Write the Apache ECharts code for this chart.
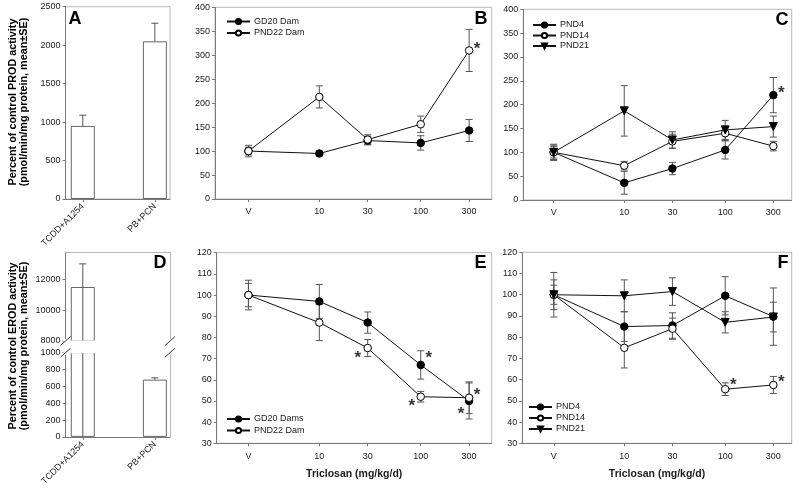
<!DOCTYPE html>
<html><head><meta charset="utf-8">
<script src="https://cdn.jsdelivr.net/npm/echarts@6/dist/echarts.min.js"></script>
<style>html,body{margin:0;padding:0;background:#fff}#c{width:800px;height:488px}</style>
</head><body><div id="c"></div>
<script>
// ---------------- DATA ----------------
const barCats = ['TCDD+A1254', 'PB+PCN'];
const prodA = [950, 2050];
const prodA_se = [140, 235];
const erodD = [11500, 680];
const erodD_se = [1500, 22];

const doses = [2, 10, 30, 100, 300];          // "V" (vehicle) plotted at 2
const doseLabels = ['V', '10', '30', '100', '300'];

// B: PROD, dams
const B_GD20 = [100, 95, 122, 117, 143];
const B_GD20_se = [8, 5, 9, 15, 23];
const B_PND22 = [100, 213, 124, 156, 310];
const B_PND22_se = [12, 23, 10, 17, 44];
// C: PROD, pups
const C_PND4 = [100, 36, 66, 105, 220];
const C_PND4_se = [17, 24, 13, 19, 37];
const C_PND14 = [100, 72, 123, 140, 113];
const C_PND14_se = [12, 9, 15, 15, 10];
const C_PND21 = [100, 187, 126, 147, 154];
const C_PND21_se = [15, 53, 17, 20, 22];
// E: EROD, dams
const E_GD20 = [100, 97, 87, 67, 50];
const E_GD20_se = [7, 8, 5, 6.7, 8.5];
const E_PND22 = [100, 87, 75, 52, 51.5];
const E_PND22_se = [5.5, 8.5, 4, 2.5, 7.5];
// F: EROD, pups
const F_PND4 = [100, 85, 85.5, 99.5, 89.7];
const F_PND4_se = [10.5, 7, 6, 9, 13.5];
const F_PND14 = [100, 75, 84, 55.5, 57.5];
const F_PND14_se = [7, 9.5, 5, 3, 4];
const F_PND21 = [100, 99.5, 101.5, 87, 89.5];
const F_PND21_se = [4.5, 7.5, 6.5, 5, 7];

// significance stars: [dose, value of the marked point]
const starsB = [[300, 310]];
const starsC = [[300, 220]];
const starsE = [[30, 75], [100, 67], [100, 52], [300, 51.5], [300, 50]];
const starsF = [[100, 55.5], [300, 57.5]];

// ---------------- STYLE ----------------
const FONT = '"Liberation Sans", Arial, Helvetica, sans-serif';
const AX = '#7a7a7a', FRAME = '#b8b8b8', TXT = '#1a1a1a', ERR = '#555';
const starOffB = [[8, -1]];
const starOffC = [[8, -2]];
const starOffE = [[-10, 10], [8, -7], [-9, 10], [8, -2], [-8, 13]];
const starOffF = [[8, -4], [8, -3]];

const chart = echarts.init(document.getElementById('c'), null, {renderer: 'canvas'});

const grids = [
  {left: 65.5, top: 6.7, width: 104.5, height: 192.3, show: true, borderColor: FRAME, borderWidth: 1},   // 0 A
  {left: 215, top: 7.3, width: 276.7, height: 191.7, show: true, borderColor: FRAME, borderWidth: 1},    // 1 B
  {left: 523.3, top: 9.3, width: 268.4, height: 190.7, show: true, borderColor: FRAME, borderWidth: 1},  // 2 C
  {left: 65.5, top: 252.3, width: 104.5, height: 88.7, show: false},                                     // 3 D upper
  {left: 65.5, top: 352.7, width: 104.5, height: 89.3, show: false},                                     // 4 D lower
  {left: 216.7, top: 252.7, width: 275, height: 190.6, show: true, borderColor: FRAME, borderWidth: 1},  // 5 E
  {left: 522.3, top: 252.3, width: 269.4, height: 191, show: true, borderColor: FRAME, borderWidth: 1}   // 6 F
];

const tickStyle = {show: true, length: 3, inside: false, lineStyle: {color: AX, width: 1}};
const lineAx = {show: true, lineStyle: {color: AX, width: 1}};
const lblStyle = {fontSize: 9, color: TXT, fontFamily: FONT};
const plainNum = v => String(v);

function logX(gi, min, max, withName) {
  return {
    type: 'log', logBase: 10, gridIndex: gi, min: min, max: max,
    axisLine: lineAx, splitLine: {show: false}, minorTick: {show: false},
    axisTick: Object.assign({}, tickStyle, {customValues: doses}),
    axisLabel: Object.assign({}, lblStyle, {margin: 8.5, customValues: doses,
      formatter: v => { const i = doses.findIndex(d => Math.abs(d - v) < 1e-6); return i >= 0 ? doseLabels[i] : ''; }}),
    name: withName ? 'Triclosan (mg/kg/d)' : '', nameLocation: 'middle', nameGap: 25,
    nameTextStyle: {fontSize: 10.5, fontWeight: 'bold', color: TXT, fontFamily: FONT}
  };
}
function catX(gi, showLabels, pos, lineColor) {
  return {
    type: 'value', gridIndex: gi, min: 0.76, max: 2.21, position: pos || 'bottom',
    axisLine: {show: true, lineStyle: {color: lineColor || AX, width: 1}}, splitLine: {show: false},
    axisTick: Object.assign({}, tickStyle, {show: showLabels, customValues: [1, 2]}),
    axisLabel: Object.assign({}, lblStyle, {show: showLabels, rotate: 45, margin: 6, customValues: [1, 2],
      formatter: v => barCats[Math.round(v) - 1] || ''})
  };
}
function valY(gi, min, max, interval, extra) {
  return Object.assign({
    type: 'value', gridIndex: gi, min: min, max: max, interval: interval,
    axisLine: lineAx, splitLine: {show: false},
    axisTick: tickStyle, axisLabel: Object.assign({}, lblStyle, {margin: 5, formatter: plainNum})
  }, extra || {});
}

const xAxes = [
  catX(0, true),                  // 0 A
  logX(1, 0.936, 501, false),     // 1 B
  logX(2, 1.0, 456, false),       // 2 C
  catX(3, false, 'top', FRAME),   // 3 D upper (top frame)
  catX(4, true),                  // 4 D lower
  logX(5, 0.973, 501, true),      // 5 E
  logX(6, 0.975, 456, true)       // 6 F
];
const yAxes = [
  valY(0, 0, 2500, 500),                       // 0 A
  valY(1, 0, 400, 50),                         // 1 B
  valY(2, 0, 400, 50),                         // 2 C
  valY(3, 8000, 13750, 2000, {                 // 3 D upper
    axisLabel: Object.assign({}, lblStyle, {margin: 5, formatter: plainNum, customValues: [8000, 10000, 12000]}),
    axisTick: Object.assign({}, tickStyle, {customValues: [8000, 10000, 12000]})}),
  valY(4, 0, 1000, 200),                       // 4 D lower
  valY(5, 30, 120, 10),                        // 5 E
  valY(6, 30, 120, 10),                        // 6 F
  // right frame lines for broken D axis
  {type: 'value', gridIndex: 3, position: 'right', min: 8000, max: 13750, axisLine: {show: true, lineStyle: {color: FRAME}}, axisTick: {show: false}, axisLabel: {show: false}, splitLine: {show: false}},
  {type: 'value', gridIndex: 4, position: 'right', min: 0, max: 1000, axisLine: {show: true, lineStyle: {color: FRAME}}, axisTick: {show: false}, axisLabel: {show: false}, splitLine: {show: false}}
];

function errSeries(xi, yi, data, z, clip) {
  return {
    type: 'custom', xAxisIndex: xi, yAxisIndex: yi, z: z || 1, clip: !!clip, silent: true,
    data: data,
    renderItem: function (params, api) {
      const x = api.value(0), lo = api.value(1), hi = api.value(2), capLo = api.value(3);
      const p1 = api.coord([x, lo]), p2 = api.coord([x, hi]);
      const st = {stroke: ERR, lineWidth: 1};
      const hw = 3.5;
      const ch = [
        {type: 'line', shape: {x1: p1[0], y1: p1[1], x2: p2[0], y2: p2[1]}, style: st},
        {type: 'line', shape: {x1: p2[0] - hw, y1: p2[1], x2: p2[0] + hw, y2: p2[1]}, style: st}
      ];
      if (capLo) ch.push({type: 'line', shape: {x1: p1[0] - hw, y1: p1[1], x2: p1[0] + hw, y2: p1[1]}, style: st});
      return {type: 'group', children: ch};
    }
  };
}
function symErr(vals, se) { return doses.map((d, i) => [d, vals[i] - se[i], vals[i] + se[i], 1]); }

const TRI = 'path://M0,0 L10,0 L5,9 Z';
function lineSeries(name, xi, vals, kind) {
  const filled = kind !== 'open';
  return {
    type: 'line', name: name, xAxisIndex: xi, yAxisIndex: xi, z: 3,
    data: doses.map((d, i) => [d, vals[i]]),
    symbol: kind === 'tri' ? TRI : 'circle', symbolSize: kind === 'tri' ? 8 : 7.5,
    showAllSymbol: true,
    lineStyle: {color: '#111', width: 1},
    itemStyle: {color: filled ? '#000' : '#fff', borderColor: '#000', borderWidth: 1},
    emphasis: {disabled: true}, animation: false
  };
}
function starSeries(xi, pts, offs) {
  return {
    type: 'scatter', xAxisIndex: xi, yAxisIndex: xi, z: 5, silent: true,
    symbolSize: 1, itemStyle: {color: 'rgba(0,0,0,0)'},
    data: pts.map((p, i) => ({value: p, label: {offset: offs[i]}})),
    label: {show: true, position: 'inside', formatter: '*', fontSize: 17, fontWeight: 'bold', color: '#000', fontFamily: FONT}
  };
}
function barSeries(xi, vals) {
  return {
    type: 'bar', xAxisIndex: xi, yAxisIndex: xi, barWidth: 24, z: 2, clip: true,
    data: vals.map((v, i) => [i + 1, v]),
    itemStyle: {color: '#fff', borderColor: '#666', borderWidth: 1}, silent: true
  };
}

const series = [
  // A
  barSeries(0, prodA),
  errSeries(0, 0, prodA.map((v, i) => [i + 1, v, v + prodA_se[i], 0]), 3),
  // D (broken axis: upper and lower parts)
  barSeries(3, erodD),
  barSeries(4, erodD),
  errSeries(3, 3, [[1, 0, erodD[0] + erodD_se[0], 0]], 3, true),
  errSeries(4, 4, [[1, 0, erodD[0] + erodD_se[0], 0], [2, erodD[1], erodD[1] + erodD_se[1], 0]], 3, true),
  // B
  errSeries(1, 1, symErr(B_GD20, B_GD20_se)),
  errSeries(1, 1, symErr(B_PND22, B_PND22_se)),
  lineSeries('GD20 Dam', 1, B_GD20, 'filled'),
  lineSeries('PND22 Dam', 1, B_PND22, 'open'),
  starSeries(1, starsB, starOffB),
  // C
  errSeries(2, 2, symErr(C_PND4, C_PND4_se)),
  errSeries(2, 2, symErr(C_PND14, C_PND14_se)),
  errSeries(2, 2, symErr(C_PND21, C_PND21_se)),
  lineSeries('PND4', 2, C_PND4, 'filled'),
  lineSeries('PND14', 2, C_PND14, 'open'),
  lineSeries('PND21', 2, C_PND21, 'tri'),
  starSeries(2, starsC, starOffC),
  // E
  errSeries(5, 5, symErr(E_GD20, E_GD20_se)),
  errSeries(5, 5, symErr(E_PND22, E_PND22_se)),
  lineSeries('GD20 Dams', 5, E_GD20, 'filled'),
  lineSeries('PND22 Dam', 5, E_PND22, 'open'),
  starSeries(5, starsE, starOffE),
  // F
  errSeries(6, 6, symErr(F_PND4, F_PND4_se)),
  errSeries(6, 6, symErr(F_PND14, F_PND14_se)),
  errSeries(6, 6, symErr(F_PND21, F_PND21_se)),
  lineSeries('PND4', 6, F_PND4, 'filled'),
  lineSeries('PND14', 6, F_PND14, 'open'),
  lineSeries('PND21', 6, F_PND21, 'tri'),
  starSeries(6, starsF, starOffF)
];

function legend(left, top, names, gap) {
  return {
    left: left, top: top, orient: 'vertical', padding: 0, itemGap: gap,
    itemWidth: 23, itemHeight: 6.5, selectedMode: false, data: names,
    textStyle: {fontSize: 9, color: TXT, fontFamily: FONT, padding: [0, 0, 0, -1]}
  };
}

const titleFont = 'bold 10.8px ' + FONT;
const letterFont = 'bold 18px ' + FONT;
function letter(t, x, y) {
  return {type: 'text', x: x, y: y, silent: true, style: {text: t, font: letterFont, fill: '#000', align: 'center', verticalAlign: 'middle'}};
}
const graphics = [
  {type: 'text', x: 18.5, y: 102, rotation: Math.PI / 2, silent: true,
   style: {text: 'Percent of control PROD activity\n(pmol/min/mg protein, mean\u00b1SE)', font: titleFont, fill: '#000', align: 'center', verticalAlign: 'middle', lineHeight: 11.5}},
  {type: 'text', x: 18.5, y: 346, rotation: Math.PI / 2, silent: true,
   style: {text: 'Percent of control EROD activity\n(pmol/min/mg protein, mean\u00b1SE)', font: titleFont, fill: '#000', align: 'center', verticalAlign: 'middle', lineHeight: 11.5}},
  letter('A', 75, 19), letter('B', 481, 19.5), letter('C', 782, 20.5),
  letter('D', 160, 263.5), letter('E', 480.5, 263.5), letter('F', 783, 263.5)
];
// axis-break gap and marks for panel D
const dL = 65.5, dR = 170, yUp = 341, yLo = 352.7;
graphics.push({type: 'rect', silent: true, z: 100, shape: {x: dL + 0.8, y: yUp - 0.6, width: dR - dL - 1.6, height: yLo - yUp + 1.2}, style: {fill: '#fff'}});
[dL, dR].forEach(x => {
  [yUp, yLo].forEach(y => {
    graphics.push({type: 'rect', silent: true, z: 100, shape: {x: x - 2, y: y - 2, width: 4, height: 4}, style: {fill: '#fff'}});
    graphics.push({type: 'line', silent: true, z: 101, shape: {x1: x - 5, y1: y + 4.5, x2: x + 5, y2: y - 4.5}, style: {stroke: '#333', lineWidth: 1}});
  });
});

chart.setOption({
  animation: false,
  backgroundColor: '#fff',
  textStyle: {fontFamily: FONT},
  grid: grids,
  xAxis: xAxes,
  yAxis: yAxes,
  legend: [
    legend(226, 17, ['GD20 Dam', 'PND22 Dam'], 2.5),
    legend(532, 20.5, ['PND4', 'PND14', 'PND21'], 1.5),
    legend(226, 414.5, ['GD20 Dams', 'PND22 Dam'], 2.5),
    legend(528, 402.5, ['PND4', 'PND14', 'PND21'], 2)
  ],
  series: series,
  graphic: graphics
});
</script></body></html>
